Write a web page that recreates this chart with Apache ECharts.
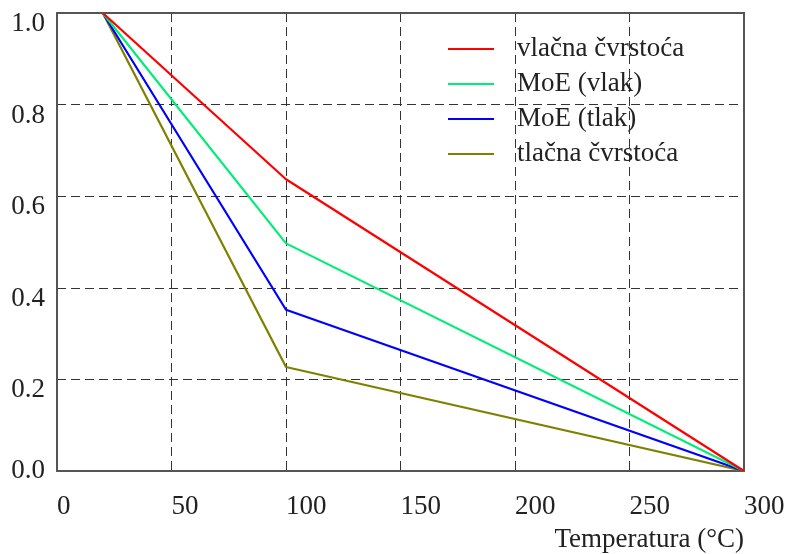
<!DOCTYPE html>
<html><head><meta charset="utf-8">
<script src="https://cdn.jsdelivr.net/npm/echarts@6/dist/echarts.min.js"></script>
<style>html,body{margin:0;padding:0;background:#fff}#c{width:788px;height:554px}</style>
</head><body><div id="c"></div>
<script>
const temps = [20, 100, 300];
const seriesNames = ['vlačna čvrstoća', 'MoE (vlak)', 'MoE (tlak)', 'tlačna čvrstoća'];
const vlacnaCvrstoca = [1.0, 0.637, 0.0];
const moeVlak = [1.0, 0.497, 0.0];
const moeTlak = [1.0, 0.352, 0.0];
const tlacnaCvrstoca = [1.0, 0.227, 0.0];
const colors = ['#ff0000', '#00ee77', '#0000ff', '#808000'];
const xTicks = [0, 50, 100, 150, 200, 250, 300];
const yTicks = [0.0, 0.2, 0.4, 0.6, 0.8, 1.0];
const xLabel = 'Temperatura (°C)';

const values = [vlacnaCvrstoca, moeVlak, moeTlak, tlacnaCvrstoca];
const font = 'Liberation Serif';
const chart = echarts.init(document.getElementById('c'));
const frameAxis = {
  axisLine: {show: true, onZero: false, lineStyle: {color: '#555', width: 2}},
  axisTick: {show: false}, axisLabel: {show: false}, splitLine: {show: false}
};
chart.setOption({
  animation: false,
  backgroundColor: '#fff',
  title: {
    text: xLabel, right: 44, top: 526, padding: 0,
    textStyle: {fontFamily: font, fontSize: 27, fontWeight: 'normal', color: '#222'}
  },
  legend: {
    orient: 'vertical', left: 448, top: 34, padding: 0,
    icon: 'rect', itemWidth: 46, itemHeight: 2, itemGap: 5,
    textStyle: {fontFamily: font, fontSize: 27, color: '#222', lineHeight: 30, padding: [0,0,0,18]},
    data: seriesNames
  },
  grid: {left: 57, right: 44, top: 13, bottom: 83, containLabel: false, outerBoundsMode: 'none'},
  xAxis: [{
    type: 'value', min: xTicks[0], max: xTicks[xTicks.length-1], interval: 50,
    axisLine: {lineStyle: {color: '#555', width: 2}},
    axisTick: {show: false},
    axisLabel: {fontFamily: font, fontSize: 27, color: '#222', align: 'left', margin: 22,
      formatter: v => String(v)},
    splitLine: {show: true, lineStyle: {color: '#333', type: [9, 5], width: 1}}
  }, Object.assign({type: 'value', position: 'top', min: 0, max: 300}, frameAxis)],
  yAxis: [{
    type: 'value', min: yTicks[0], max: yTicks[yTicks.length-1], interval: 0.2,
    axisLine: {show: true, lineStyle: {color: '#555', width: 2}},
    axisTick: {show: false},
    axisLabel: {fontFamily: font, fontSize: 27, color: '#222', margin: 12,
      verticalAlign: 'middle', lineHeight: 22,
      formatter: v => v === 0 ? v.toFixed(1) : '\n' + v.toFixed(1)},
    splitLine: {show: true, lineStyle: {color: '#333', type: [9, 5], width: 1}}
  }, Object.assign({type: 'value', position: 'right', min: 0, max: 1}, frameAxis)],
  series: seriesNames.map((n, i) => ({
    name: n, type: 'line', showSymbol: false, symbol: 'none',
    data: temps.map((t, j) => [t, values[i][j]]),
    lineStyle: {color: colors[i], width: 2.2}, itemStyle: {color: colors[i]},
    z: 10 - i
  }))
});
</script></body></html>
